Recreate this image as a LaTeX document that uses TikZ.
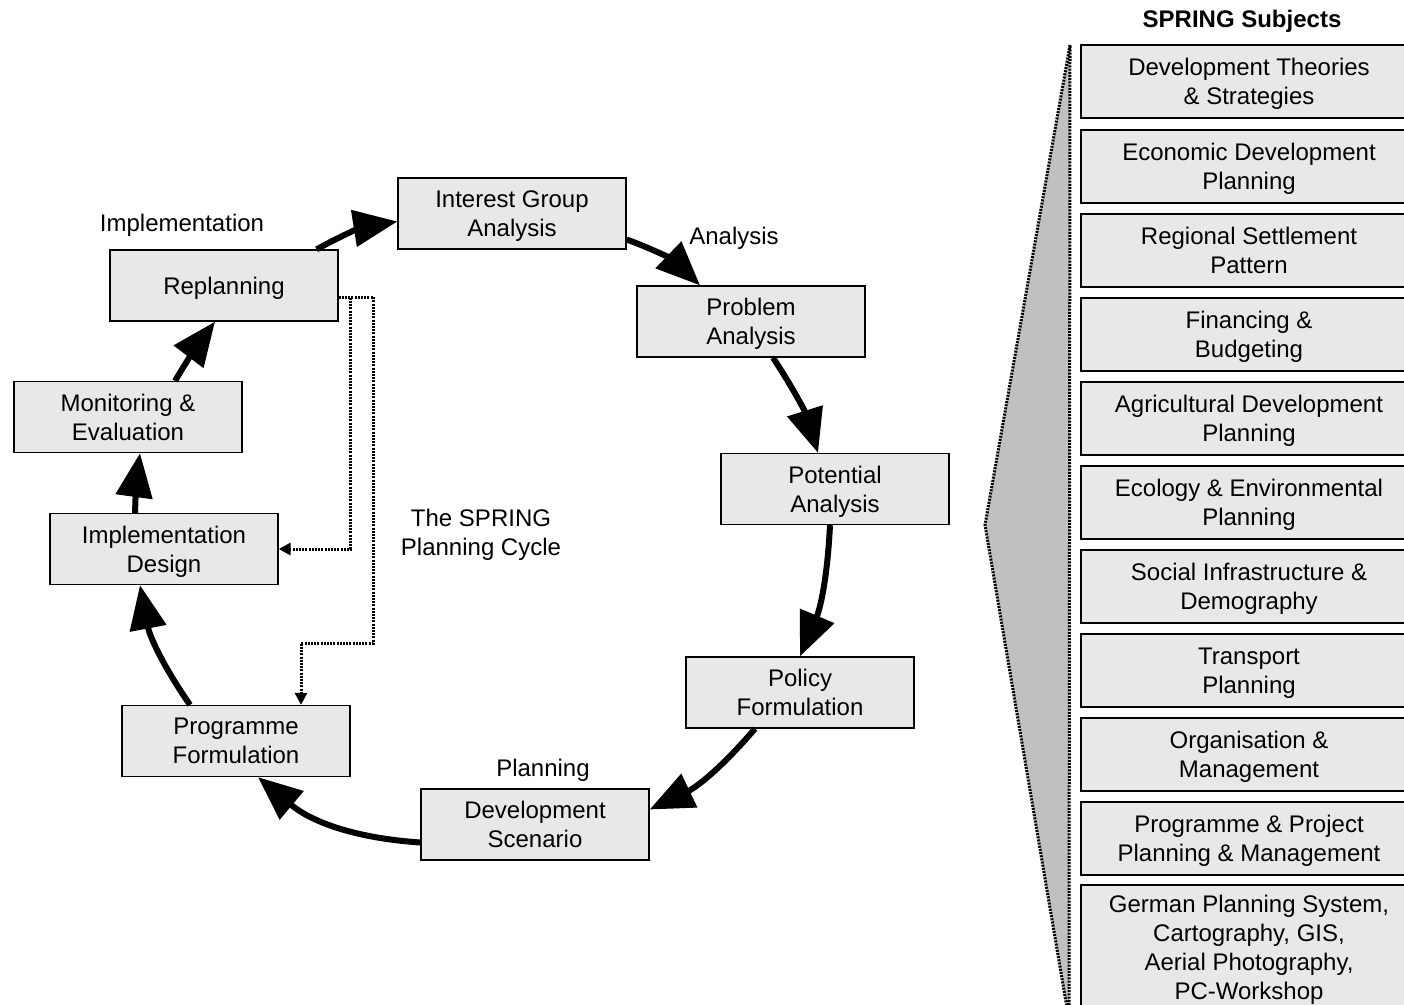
\documentclass[tikz,border=0pt]{standalone}
\usepackage{fontspec}
\setmainfont{Liberation Sans}
\usetikzlibrary{arrows.meta}
\definecolor{boxgray}{RGB}{232,232,232}
\definecolor{wedgegray}{RGB}{192,192,192}

\begin{document}
\begin{tikzpicture}[
        x=1pt, y=-1pt,
        >={Triangle[length=44pt, width=36pt]},
        font=\fontsize{24}{29}\selectfont,
        stage/.style = {
            draw, fill=boxgray, line width=1.3pt,
            minimum width=228pt, minimum height=71pt,
            inner sep=0pt, align=center, text depth=-9pt
        },
        subject/.style = {
            draw, fill=boxgray, line width=1.3pt,
            minimum width=336pt, minimum height=#1,
            inner sep=0pt, align=center, text depth=-8pt
        },
        cyclearrow/.style = {->, line width=6pt},
        feedback/.style = {
            -{Triangle[length=12pt, width=12pt]},
            line width=3pt, dash pattern=on 2pt off 1.2pt
        },
        phaselabel/.style = {inner sep=0pt, align=center}
    ]
        \useasboundingbox (0,0) rectangle (1404,1004);

        \filldraw[fill=wedgegray, line width=3pt, dash pattern=on 2pt off 1.2pt]
            (1070,45) -- (985,525) -- (1067,1008) -- (1069,1008) -- cycle;

        \node[stage] (IG) at (512, 213.5){Interest Group\\Analysis};
        \node[stage] (PA) at (751, 321.5){Problem\\Analysis};
        \node[stage] (PT) at (835, 489  ){Potential\\Analysis};
        \node[stage] (PF) at (800, 692.5){Policy\\Formulation};
        \node[stage] (DS) at (535, 824.5){Development\\Scenario};
        \node[stage] (PG) at (236, 741  ){Programme\\Formulation};
        \node[stage] (ID) at (164, 549  ){Implementation\\Design};
        \node[stage] (ME) at (128, 417  ){Monitoring \&\\Evaluation};
        \node[stage] (RP) at (224, 285.5){Replanning};

        \node[phaselabel] (Limp) at (182, 225){Implementation};
        \node[phaselabel] (Lana) at (734, 238){Analysis};
        \node[phaselabel] (Lpla) at (543, 770){Planning};
        \node[phaselabel] (Lcyc) at (481, 535){The SPRING\\Planning Cycle};

        \draw[cyclearrow] ([xshift=-22pt]RP.north east) to[bend left=10] ([yshift=-8pt]IG.west);
        \draw[cyclearrow] ([yshift=-26pt]IG.east) to[bend left=12] ([xshift=-51pt]PA.north);
        \draw[cyclearrow] ([xshift=22pt]PA.south) to[bend left=8] ([xshift=-17pt]PT.north);
        \draw[cyclearrow] ([xshift=-5pt]PT.south) to[bend left=10] (PF.north);
        \draw[cyclearrow] ([xshift=-45pt]PF.south) to[bend left=12] ([yshift=15pt]DS.east);
        \draw[cyclearrow] ([yshift=-18pt]DS.west) to[bend left=18] ([xshift=22pt]PG.south);
        \draw[cyclearrow] ([xshift=-46pt]PG.north) to[bend left=12] ([xshift=-24pt]ID.south);
        \draw[cyclearrow] ([xshift=-29pt]ID.north) to[bend left=3] ([xshift=12pt]ME.south);
        \draw[cyclearrow] ([xshift=47pt]ME.north) to[bend left=3] ([xshift=-9pt]RP.south);

        \draw[feedback] ([yshift=-11.5pt]RP.east) -- ++(12,0) |- (ID.east);
        \draw[feedback] ([yshift=-11.5pt]RP.east) -- ++(35,0) -- ++(0,346) -| ([xshift=65pt]PG.north);

        \node[font=\fontsize{24}{29}\selectfont\bfseries] (SUB) at (1242, 21){SPRING Subjects};

        \node[subject=73pt] (T1)  at (1249,  81.5){Development Theories\\\& Strategies};
        \node[subject=73pt] (T2)  at (1249, 166.5){Economic Development\\Planning};
        \node[subject=73pt] (T3)  at (1249, 250.5){Regional Settlement\\Pattern};
        \node[subject=73pt] (T4)  at (1249, 334.5){Financing \&\\Budgeting};
        \node[subject=73pt] (T5)  at (1249, 418.5){Agricultural Development\\Planning};
        \node[subject=73pt] (T6)  at (1249, 502.5){Ecology \& Environmental\\Planning};
        \node[subject=73pt] (T7)  at (1249, 586.5){Social Infrastructure \&\\Demography};
        \node[subject=73pt] (T8)  at (1249, 670.5){Transport\\Planning};
        \node[subject=73pt] (T9)  at (1249, 754.5){Organisation \&\\Management};
        \node[subject=73pt] (T10) at (1249, 838.5){Programme \& Project\\Planning \& Management};
        \node[subject=124pt] (T11) at (1249, 947  ){German Planning System,\\Cartography, GIS,\\Aerial Photography,\\PC-Workshop};
    \end{tikzpicture}
\end{document}
